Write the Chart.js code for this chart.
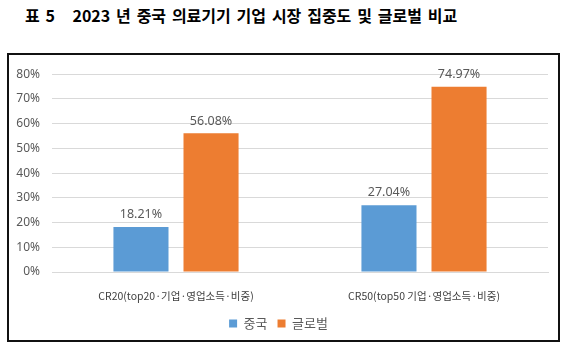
<!DOCTYPE html>
<html>
<head>
<meta charset="utf-8">
<script src="https://cdn.jsdelivr.net/npm/chart.js@4"></script>
<style>
  body { margin: 0; background: #fff; width: 567px; height: 351px; position: relative; overflow: hidden; }
  #title { position: absolute; left: 25px; top: 3px; font-family: "Noto Sans CJK KR", sans-serif; font-weight: bold; font-size: 16px; word-spacing: 2.2px; color: #000; white-space: pre; }
  #box { position: absolute; left: 7px; top: 53px; width: 549px; height: 285px; border: 2px solid #111; }
  canvas { display: block; }
</style>
</head>
<body>
<div id="title">표 5   2023 년 중국 의료기기 기업 시장 집중도 및 글로벌 비교</div>
<div id="box"><canvas id="chart" width="549" height="285"></canvas></div>
<script>
var categories = ['CR20(top20·기업·영업소득·비중)', 'CR50(top50 기업·영업소득·비중)'];
var seriesNames = ['중국', '글로벌'];
var chinaValues = [18.21, 27.04];
var globalValues = [56.08, 74.97];
var yTicks = [0, 10, 20, 30, 40, 50, 60, 70, 80];

var barLabels = {
    id: 'barLabels',
    afterDatasetsDraw: function (chart) {
        var ctx = chart.ctx;
        ctx.save();
        ctx.font = '12.5px "Noto Sans", sans-serif';
        ctx.fillStyle = '#595959';
        ctx.textAlign = 'center';
        ctx.textBaseline = 'bottom';
        chart.data.datasets.forEach(function (ds, i) {
            chart.getDatasetMeta(i).data.forEach(function (bar, j) {
                ctx.fillText(ds.data[j].toFixed(2) + '%', bar.x, bar.y - 6);
            });
        });
        ctx.restore();
    }
};

new Chart(document.getElementById('chart'), {
    type: 'bar',
    data: {
        labels: categories,
        datasets: [{
            label: seriesNames[0],
            data: chinaValues,
            backgroundColor: '#5B9BD5'
        }, {
            label: seriesNames[1],
            data: globalValues,
            backgroundColor: '#ED7D31'
        }]
    },
    options: {
        responsive: false,
        animation: false,
        layout: { padding: { top: 8, left: 0, right: 10, bottom: 0 } },
        datasets: { bar: { categoryPercentage: 0.565, barPercentage: 0.786 } },
        plugins: {
            legend: {
                position: 'bottom',
                labels: {
                    boxWidth: 8,
                    boxHeight: 8,
                    padding: 10,
                    color: '#595959',
                    font: { family: '"Noto Sans CJK KR", sans-serif', size: 13 }
                }
            },
            tooltip: { enabled: false }
        },
        scales: {
            x: {
                grid: { display: false },
                border: { color: '#D9D9D9' },
                ticks: {
                    color: '#404040',
                    padding: 10,
                    font: { family: '"Noto Sans CJK KR", sans-serif', size: 10.5 }
                },
                afterFit: function (scale) { scale.height = 35; }
            },
            y: {
                min: 0,
                max: 80,
                afterBuildTicks: function (scale) {
                    scale.ticks = yTicks.map(function (v) { return { value: v }; });
                },
                grid: { color: '#D9D9D9', drawTicks: false },
                border: { display: false },
                ticks: {
                    color: '#595959',
                    padding: 12,
                    font: { family: '"Noto Sans", sans-serif', size: 12 },
                    callback: function (v) { return v + '%'; }
                },
                afterFit: function (scale) { scale.width = 43; }
            }
        }
    },
    plugins: [barLabels]
});
</script>
</body>
</html>
